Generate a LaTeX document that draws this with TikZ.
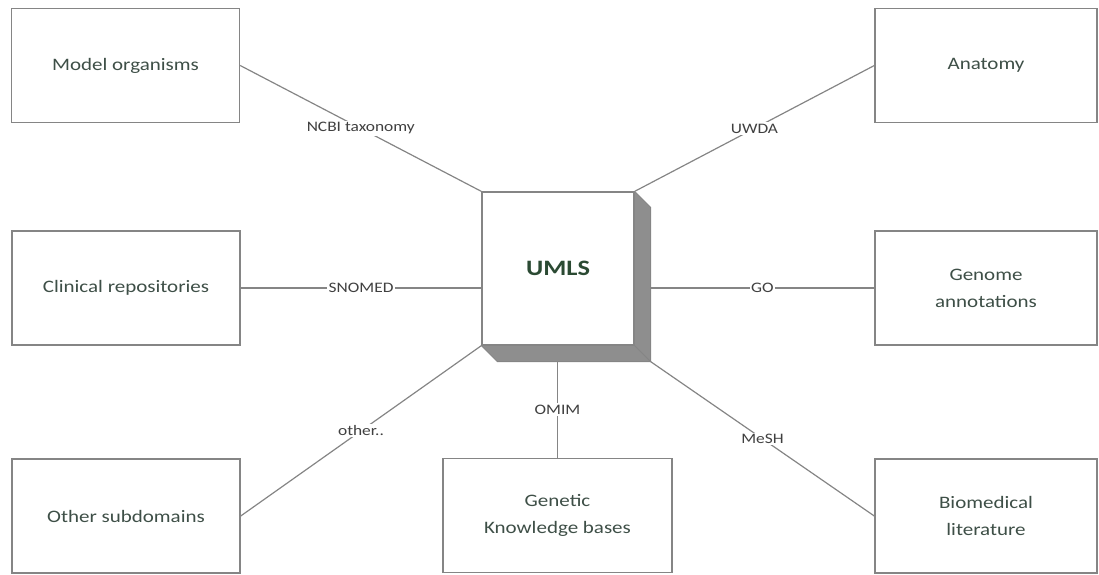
\documentclass[tikz,border=0pt]{standalone}
\usepackage{fontspec}
\setmainfont{Carlito}[FakeStretch=1.2]
\usetikzlibrary{calc}
\definecolor{boxtext}{HTML}{3E4F47}
\definecolor{umlstext}{HTML}{2B4A33}
\definecolor{linegray}{HTML}{858585}
\definecolor{shadowgray}{HTML}{8E8E8E}
\definecolor{labeltext}{HTML}{404040}
\tikzset{
  domainbox/.style={draw=linegray, line width=1.4pt, fill=white, minimum width=228pt, minimum height=114pt,
    align=center, inner sep=0pt, text=boxtext, font=\fontsize{17.5}{27}\selectfont},
  conn/.style={draw=linegray, line width=1.2pt},
  lbl/.style={fill=white, inner sep=1.5pt, text=labeltext, font=\fontsize{14.5}{16}\selectfont},
  umlsbox/.style={draw=linegray, line width=1.2pt, fill=white, minimum width=152pt, minimum height=153pt,
    inner sep=0pt, text=umlstext, font=\fontsize{22}{24}\selectfont\bfseries}
}
\begin{document}
\begin{tikzpicture}[x=1pt,y=-1pt]
\useasboundingbox (0,0) rectangle (1099,574);
% boxes
\node[domainbox] (model) at (125.5,65.5) {Model organisms};
\node[domainbox, minimum width=222pt] (anat) at (986,65.5) {Anatomy};
\node[domainbox] (clin) at (126,288) {Clinical repositories};
\node[domainbox, minimum width=222pt] (genome) at (986,288) {Genome\\annotations};
\node[domainbox] (other) at (126,516) {Other subdomains};
\node[domainbox, minimum width=229pt] (genetic) at (557.5,515.5) {Genetic\\Knowledge bases};
\node[domainbox, minimum width=222pt] (bio) at (986,516) {Biomedical\\literature};
% central box with 3D shadow
\node[umlsbox] (umls) at (558,268.5) {UMLS};
\coordinate (shne) at ($(umls.north east)+(16,16)$);
\coordinate (shse) at ($(umls.south east)+(16,16)$);
\coordinate (shsw) at ($(umls.south west)+(16,16)$);
\fill[shadowgray] (umls.north east) -- (shne) -- (shse) -- (shsw) -- (umls.south west) -- (umls.south east) -- cycle;
\draw[linegray, line width=0.8pt] (umls.north east) -- (shne) -- (shse) -- (shsw) -- (umls.south west);
\draw[linegray, line width=0.8pt] (umls.south east) -- (shse);
\node[umlsbox] at (umls) {UMLS};
% connectors
\draw[conn] (model.east) -- node[lbl] {NCBI taxonomy} (umls.north west);
\draw[conn] (umls.north east) -- node[lbl] {UWDA} (anat.west);
\draw[conn] (clin.east) -- node[lbl] {SNOMED} (clin.east -| umls.west);
\draw[conn] (genome.west -| shse) -- node[lbl] {GO} (genome.west);
\draw[conn] (umls.south west) -- node[lbl] {other..} (other.east);
\draw[conn] (genetic.north |- shse) -- node[lbl] {OMIM} (genetic.north);
\draw[conn] (shse) -- node[lbl] {MeSH} (bio.west);
\end{tikzpicture}
\end{document}
